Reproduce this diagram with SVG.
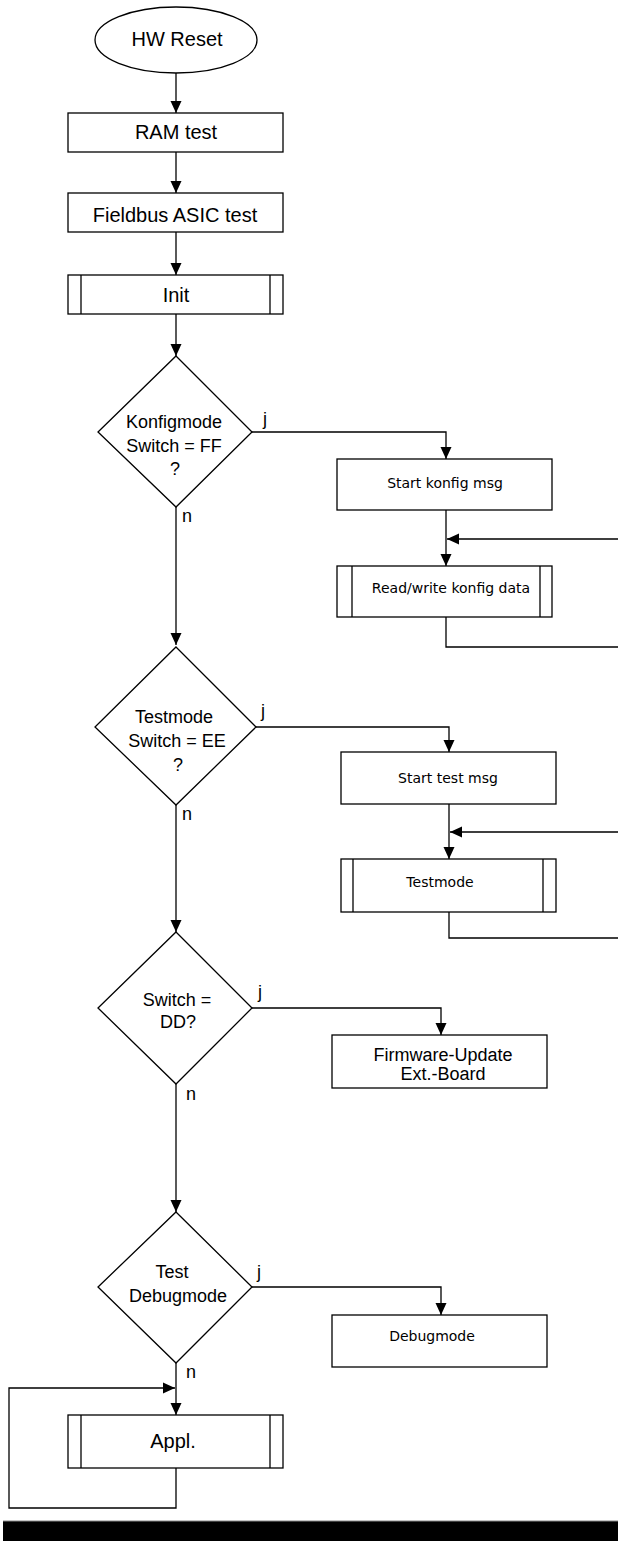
<svg xmlns="http://www.w3.org/2000/svg" width="618" height="1541" viewBox="0 0 618 1541">
<style>
.shape{fill:#fff;stroke:#000;stroke-width:1.3}
.inner{fill:none;stroke:#000;stroke-width:1.3}
.conn{fill:none;stroke:#000;stroke-width:1.3}
.t20{font-family:"Liberation Sans",Arial,sans-serif;font-size:20px;fill:#000;text-anchor:middle}
.t18{font-family:"Liberation Sans",Arial,sans-serif;font-size:18px;fill:#000;text-anchor:middle}
.lbl{font-family:"Liberation Sans",Arial,sans-serif;font-size:18px;fill:#000}
.t14{font-family:"DejaVu Sans",Tahoma,sans-serif;font-size:14px;fill:#000;text-anchor:middle}
</style>
<defs>
<marker id="ah" viewBox="0 0 12 12" refX="12" refY="6" markerWidth="12" markerHeight="12" markerUnits="userSpaceOnUse" orient="auto">
<path d="M0,0.5 L12,6 L0,11.5 z" fill="#000"/>
</marker>
</defs>
<rect x="0" y="0" width="618" height="1541" fill="#fff"/>

<g id="connectors">
<path class="conn" d="M176,73 V113" marker-end="url(#ah)"/>
<path class="conn" d="M176,152 V193" marker-end="url(#ah)"/>
<path class="conn" d="M176,232 V275" marker-end="url(#ah)"/>
<path class="conn" d="M176,314 V356" marker-end="url(#ah)"/>
<path class="conn" d="M176,507 V645" marker-end="url(#ah)"/>
<path class="conn" d="M176,805 V932" marker-end="url(#ah)"/>
<path class="conn" d="M176,1084 V1212" marker-end="url(#ah)"/>
<path class="conn" d="M176,1363 V1415" marker-end="url(#ah)"/>
<path class="conn" d="M252,432 H446 V459" marker-end="url(#ah)"/>
<path class="conn" d="M446,510 V566" marker-end="url(#ah)"/>
<path class="conn" d="M446,617 V647 H630 V539 H447" marker-end="url(#ah)"/>
<path class="conn" d="M256,727 H449 V752" marker-end="url(#ah)"/>
<path class="conn" d="M449,804 V859" marker-end="url(#ah)"/>
<path class="conn" d="M449,912 V938 H630 V832 H450" marker-end="url(#ah)"/>
<path class="conn" d="M252,1008 H441 V1035" marker-end="url(#ah)"/>
<path class="conn" d="M252,1287 H441 V1315" marker-end="url(#ah)"/>
<path class="conn" d="M176,1468 V1508 H9 V1388 H175" marker-end="url(#ah)"/>
</g>

<g id="hw-reset">
<ellipse class="shape" cx="176" cy="40" rx="81" ry="33"/>
<text class="t20" x="177" y="46">HW Reset</text>
</g>
<g id="ram-test">
<rect class="shape" x="68" y="113" width="215" height="39"/>
<text class="t20" x="176" y="139">RAM test</text>
</g>
<g id="fieldbus-test">
<rect class="shape" x="68" y="193" width="215" height="39"/>
<text class="t20" x="175" y="222">Fieldbus ASIC test</text>
</g>
<g id="init">
<rect class="shape" x="68" y="275" width="215" height="39"/>
<line class="inner" x1="81" y1="275" x2="81" y2="314"/>
<line class="inner" x1="270" y1="275" x2="270" y2="314"/>
<text class="t20" x="176" y="302">Init</text>
</g>

<g id="konfigmode-decision">
<polygon class="shape" points="176,356 252,432 176,507 98,432"/>
<text class="t18" x="174" y="428">Konfigmode</text>
<text class="t18" x="174" y="452">Switch = FF</text>
<text class="t18" x="175" y="475">?</text>
<text class="lbl" x="263" y="425">j</text>
<text class="lbl" x="182" y="522">n</text>
</g>
<g id="start-konfig-msg">
<rect class="shape" x="337" y="459" width="215" height="51"/>
<text class="t14" x="445" y="488">Start konfig msg</text>
</g>
<g id="rw-konfig-data">
<rect class="shape" x="337" y="566" width="215" height="51"/>
<line class="inner" x1="352" y1="566" x2="352" y2="617"/>
<line class="inner" x1="540" y1="566" x2="540" y2="617"/>
<text class="t14" x="451" y="593">Read/write konfig data</text>
</g>

<g id="testmode-decision">
<polygon class="shape" points="176,647 256,727 176,805 95,727"/>
<text class="t18" x="174" y="723">Testmode</text>
<text class="t18" x="177" y="747">Switch = EE</text>
<text class="t18" x="178" y="771">?</text>
<text class="lbl" x="261" y="717">j</text>
<text class="lbl" x="182" y="820">n</text>
</g>
<g id="start-test-msg">
<rect class="shape" x="341" y="752" width="215" height="52"/>
<text class="t14" x="448" y="783">Start test msg</text>
</g>
<g id="testmode">
<rect class="shape" x="341" y="859" width="215" height="53"/>
<line class="inner" x1="353" y1="859" x2="353" y2="912"/>
<line class="inner" x1="543" y1="859" x2="543" y2="912"/>
<text class="t14" x="440" y="887">Testmode</text>
</g>

<g id="switch-dd-decision">
<polygon class="shape" points="176,932 252,1008 176,1084 98,1008"/>
<text class="t18" x="177" y="1006">Switch =</text>
<text class="t18" x="178" y="1028">DD?</text>
<text class="lbl" x="258" y="998">j</text>
<text class="lbl" x="186" y="1100">n</text>
</g>
<g id="firmware-update">
<rect class="shape" x="332" y="1035" width="215" height="53"/>
<text class="t18" x="443" y="1061">Firmware-Update</text>
<text class="t18" x="443" y="1080">Ext.-Board</text>
</g>

<g id="debugmode-decision">
<polygon class="shape" points="176,1212 252,1287 176,1363 98,1287"/>
<text class="t18" x="172" y="1278">Test</text>
<text class="t18" x="178" y="1302">Debugmode</text>
<text class="lbl" x="257" y="1278">j</text>
<text class="lbl" x="186" y="1378">n</text>
</g>
<g id="debugmode">
<rect class="shape" x="332" y="1315" width="215" height="52"/>
<text class="t14" x="432" y="1341">Debugmode</text>
</g>

<g id="appl">
<rect class="shape" x="68" y="1415" width="215" height="53"/>
<line class="inner" x1="81" y1="1415" x2="81" y2="1468"/>
<line class="inner" x1="270" y1="1415" x2="270" y2="1468"/>
<text class="t20" x="173" y="1448">Appl.</text>
</g>

<rect x="3" y="1521" width="615" height="20" fill="#000"/>
<line x1="3" y1="1521" x2="618" y2="1521" stroke="#888" stroke-width="1"/>
</svg>
